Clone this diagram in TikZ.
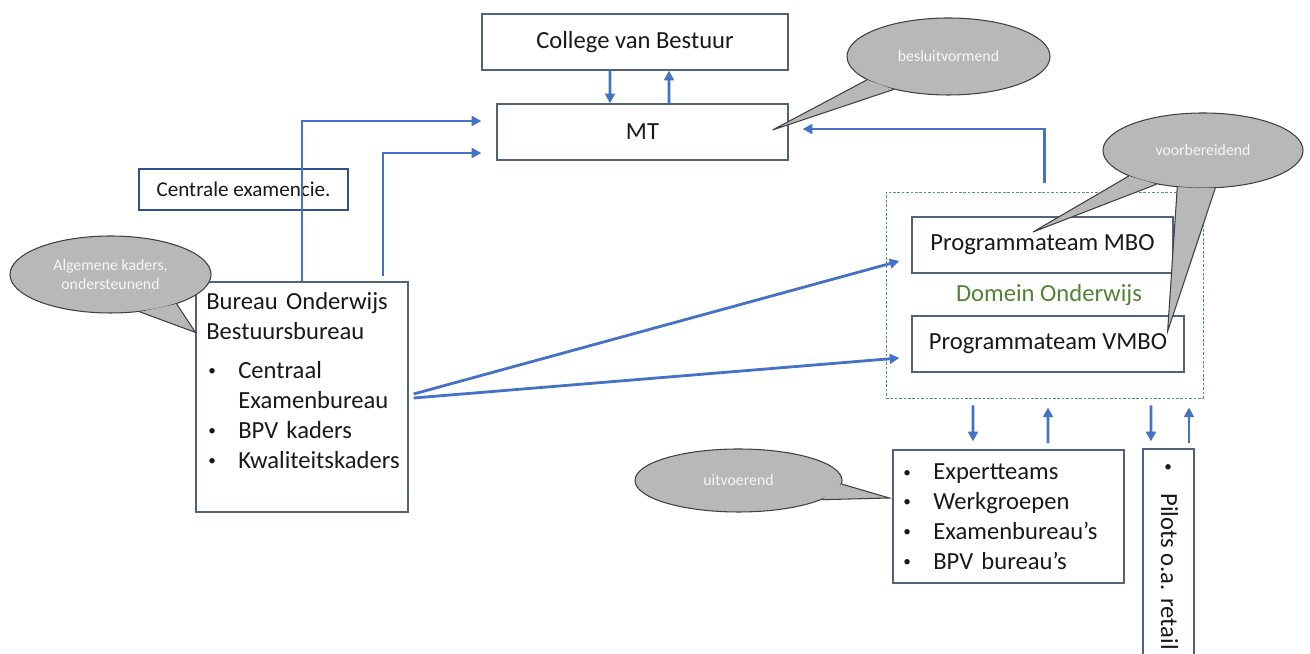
\documentclass[tikz,border=0pt]{standalone}
\usepackage{fontspec}
\setmainfont{Carlito}
\usepackage{tikz}
\usetikzlibrary{arrows.meta,positioning,calc,shapes.geometric}
\definecolor{inkText}{RGB}{25, 25, 25}
\definecolor{boxLine}{RGB}{82, 98, 122}
\definecolor{examBlue}{RGB}{47, 82, 143}
\definecolor{flowBlue}{RGB}{68, 114, 196}
\definecolor{domGreen}{RGB}{84, 150, 100}
\definecolor{domText}{RGB}{84, 130, 53}
\definecolor{bubbleFill}{RGB}{184, 184, 184}
\definecolor{bubbleLine}{RGB}{64, 64, 64}
\definecolor{bubbleText}{RGB}{246, 246, 246}

\newcommand{\bul}{\makebox[0.64cm][l]{\hspace*{0.04cm}\raisebox{0.12em}{\scalebox{0.62}{\textbullet}}}}

\begin{document}
\begin{tikzpicture}[
        box/.style={draw=boxLine, fill=white, line width=0.7pt, inner sep=0pt, align=center, font=\fontsize{14pt}{17pt}\selectfont\color{inkText}},
        boxtext/.style={inner sep=0pt, align=left, font=\fontsize{14pt}{17pt}\selectfont\color{inkText}},
        domainbox/.style={draw=domGreen, dash pattern=on 1.5pt off 1pt, line width=0.5pt},
        bubble/.style={ellipse, draw=bubbleLine, fill=bubbleFill, line width=0.6pt, inner sep=0pt, align=center, font=\fontsize{9pt}{11pt}\selectfont\color{bubbleText}},
        tail/.style={draw=bubbleLine, fill=bubbleFill, line width=0.6pt},
        arr/.style={-{Triangle[length=5.5pt, width=5.5pt]}, line width=1.6pt, color=flowBlue}
    ]
        \useasboundingbox (0, 0) rectangle (26.2, 13.08);
        \clip (0, 0) rectangle (26.2, 13.08);

        % Top: CvB and MT
        \node[box, minimum width=6.12cm, minimum height=1.12cm] (cvb) at (12.70, 12.24) {College van Bestuur};
        \node[box, minimum width=5.82cm, minimum height=1.12cm] (mt) at (12.85, 10.44) {MT};
        \draw[arr] ($(cvb.south)+(-0.5, 0)$) -- ($(mt.north)+(-0.65, 0)$);
        \draw[arr] ($(mt.north)+(0.53, 0)$) -- ($(cvb.south)+(0.68, 0)$);

        % Left: Bureau Onderwijs
        \node[box, draw=examBlue, line width=1.1pt, font=\fontsize{12pt}{14pt}\selectfont\color{inkText}, minimum width=4.18cm, minimum height=0.82cm] (exam) at (4.87, 9.29) {Centrale examencie.};
        \node[box, minimum width=4.24cm, minimum height=4.6cm] (bureau) at (6.04, 5.14) {};
        \node[boxtext, anchor=base west, text width=4.0cm] (bureauTxt) at (4.12, 6.88) {Bureau Onderwijs\\Bestuursbureau\\[5pt]\bul Centraal\\\hspace*{0.64cm}Examenbureau\\\bul BPV kaders\\\bul Kwaliteitskaders};
        \draw[arr] (bureau.north) |- ($(mt.west)+(-0.3, 0.22)$);
        \draw[arr] ($(bureau.north)+(1.62, 0.1)$) |- ($(mt.west)+(-0.3, -0.42)$);

        % Right: Domein Onderwijs
        \node[domainbox, minimum width=6.34cm, minimum height=4.12cm] (domein) at (20.89, 7.18) {};
        \node[box, minimum width=5.22cm, minimum height=1.12cm] (mbo) at (20.85, 8.18) {Programmateam MBO};
        \node[box, minimum width=5.44cm, minimum height=1.12cm] (vmbo) at (20.96, 6.20) {Programmateam VMBO};
        \node[font=\fontsize{14pt}{17pt}\selectfont\color{domText}] (domLbl) at (20.98, 7.18) {Domein Onderwijs};
        \draw[arr] ($(domein.north)+(0, 0.18)$) |- ($(mt.east)+(0.28, 0.06)$);
        \draw[arr] ($(bureau.east)+(0.1, 0.06)$) -- ($(mbo.west)+(-0.24, -0.32)$);
        \draw[arr] ($(bureau.east)+(0.1, -0.02)$) -- ($(vmbo.west)+(-0.24, -0.28)$);

        % Bottom: teams and pilots
        \node[box, minimum width=4.62cm, minimum height=2.66cm] (expert) at (20.17, 2.75) {};
        \node[boxtext, anchor=base west, text width=4.3cm] (expertTxt) at (18.02, 3.48) {\bul Expertteams\\\bul Werkgroepen\\\bul Examenbureau’s\\\bul BPV bureau’s};
        \node[box, minimum width=1.02cm, minimum height=5.42cm] (pilots) at (23.37, 1.39) {};
        \node[boxtext, rotate=-90, anchor=base west] (pilotsTxt) at (23.22, 3.86) {\bul Pilots o.a. retail};
        \draw[arr] ($(domein.south)+(-1.43, -0.14)$) -- ($(expert.north)+(-0.71, 0.16)$);
        \draw[arr] ($(expert.north)+(0.79, 0.12)$) -- ($(domein.south)+(0.07, -0.18)$);
        \draw[arr] ($(domein.south)+(2.13, -0.14)$) -- ($(pilots.north)+(-0.35, 0.14)$);
        \draw[arr] ($(pilots.north)+(0.41, 0.1)$) -- ($(domein.south)+(2.89, -0.18)$);

        % Callouts
        \node[bubble, minimum width=4.06cm, minimum height=1.54cm] (besl) at (18.97, 11.95) {besluitvormend};
        \filldraw[tail] (besl.196) -- ($(mt.east)+(-0.32, 0.04)$) -- (besl.211);
        \node[bubble, minimum width=4.0cm, minimum height=1.5cm] (voorb) at (24.06, 10.07) {voorbereidend};
        \filldraw[tail] (voorb.199) -- ($(mbo.center)+(-0.19, 0.26)$) -- (voorb.216);
        \filldraw[tail] (voorb.235) -- ($(vmbo.north east)+(-0.34, -0.32)$) -- (voorb.288);
        \node[bubble, minimum width=4.02cm, minimum height=1.54cm] (alg) at (2.21, 7.59) {Algemene kaders,\\ondersteunend};
        \filldraw[tail] (alg.336) -- ($(bureau.north west)+(0, -1.02)$) -- (alg.308);
        \node[bubble, minimum width=4.14cm, minimum height=1.26cm] (uit) at (14.77, 3.47) {uitvoerend};
        \filldraw[tail] (uit.358) -- ($(expert.west)+(-0.06, 0.37)$) -- (uit.347);
    \end{tikzpicture}
\end{document}
